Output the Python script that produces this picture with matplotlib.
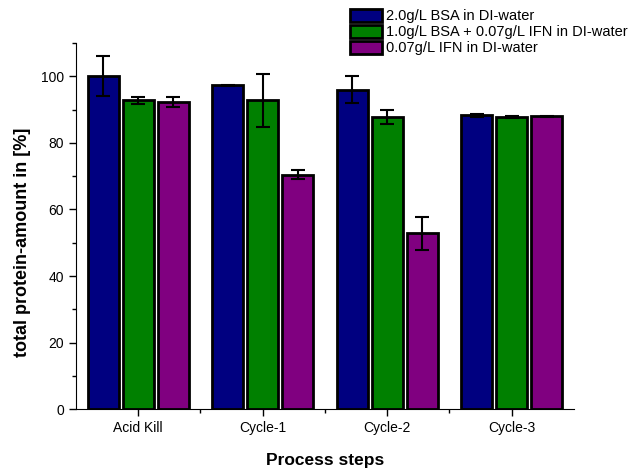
import numpy as np
import matplotlib.pyplot as plt
from matplotlib.ticker import MultipleLocator, FixedLocator

plt.rcParams['font.family'] = ['Liberation Sans', 'DejaVu Sans']

steps = ['Acid Kill', 'Cycle-1', 'Cycle-2', 'Cycle-3']
labels = ['2.0g/L BSA in DI-water',
          '1.0g/L BSA + 0.07g/L IFN in DI-water',
          '0.07g/L IFN in DI-water']
bsa = [100.0, 97.3, 96.0, 88.3]
bsa_err = [6.0, 0.2, 4.0, 0.4]
mix = [92.8, 92.8, 87.8, 87.8]
mix_err = [1.0, 8.0, 2.0, 0.2]
ifn = [92.3, 70.5, 52.8, 88.0]
ifn_err = [1.5, 1.5, 5.0, 0.2]

colors = ['#000080', '#008000', '#800080']

fig = plt.figure(figsize=(6.28, 4.73), dpi=100)
ax = fig.add_axes([0.121, 0.135, 0.793, 0.774])

x = np.arange(len(steps))
offs = [-0.28, 0.0, 0.28]
for vals, errs, c, lab, o in zip([bsa, mix, ifn], [bsa_err, mix_err, ifn_err], colors, labels, offs):
    ax.bar(x + o, vals, width=0.25, color=c, edgecolor='black', linewidth=2, label=lab, zorder=2)
    ax.errorbar(x + o, vals, yerr=errs, fmt='none', ecolor='black', elinewidth=1.5,
                capsize=5, capthick=1.5, zorder=3)

ax.set_xlim(-0.5, 3.5)
ax.set_ylim(0, 110)
ax.set_xticks(x)
ax.set_xticklabels(steps, fontsize=10)
ax.xaxis.set_minor_locator(FixedLocator([0.5, 1.5, 2.5]))
ax.yaxis.set_major_locator(MultipleLocator(20))
ax.yaxis.set_minor_locator(MultipleLocator(10))
ax.tick_params(axis='y', labelsize=10)
ax.tick_params(which='major', length=5, width=1)
ax.tick_params(which='minor', length=3, width=1)
ax.spines['top'].set_visible(False)
ax.spines['right'].set_visible(False)

ax.set_xlabel('Process steps', fontsize=12.5, fontweight='bold', labelpad=13)
ax.set_ylabel('total protein-amount in [%]', fontsize=13, fontweight='bold')
ax.yaxis.set_label_coords(-0.09, 0.455)

fig.legend(loc='upper left', bbox_to_anchor=(0.543, 1.0), frameon=False, fontsize=10.5,
           handlelength=2.2, handleheight=1.0, handletextpad=0.3, labelspacing=0.1,
           borderaxespad=0.2)

fig.savefig('out.png', dpi=100)
